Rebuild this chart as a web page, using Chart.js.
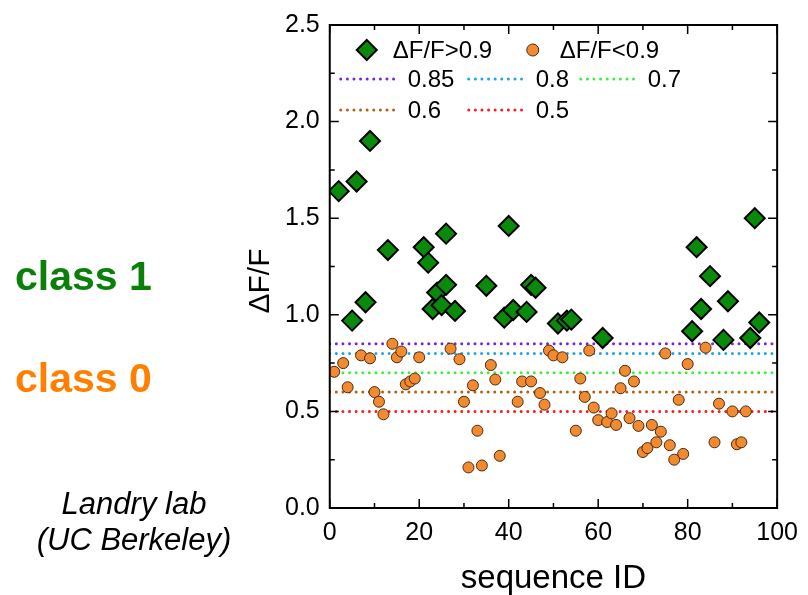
<!DOCTYPE html>
<html>
<head>
<meta charset="utf-8">
<script src="https://cdn.jsdelivr.net/npm/chart.js@4"></script>
<style>
  body { margin: 0; background: #fff; }
  #wrap { position: relative; width: 808px; height: 595px; }
  #chart { position: absolute; left: 0; top: 0; }
  .note { position: absolute; font-family: Arial, "Liberation Sans", sans-serif; white-space: nowrap; }
  .cls { font-weight: bold; font-size: 41px; left: 15px; }
  .lab { font-style: italic; font-size: 31px; left: 0; width: 268px; text-align: center; line-height: 36px; top: 486px; color: #000; }
</style>
</head>
<body>
<div id="wrap">
  <canvas id="chart" width="808" height="595"></canvas>
  <div class="note cls" style="top:253px;color:#0a800a;">class 1</div>
  <div class="note cls" style="top:355px;color:#ff8000;">class 0</div>
  <div class="note lab">Landry lab<br>(UC Berkeley)</div>
</div>
<script>
// sequences with dF/F > 0.9
const highIds = [2, 5, 6, 8, 9, 13, 21, 22, 23, 24, 25, 26, 26, 28, 35, 39, 40, 41, 44, 45, 46, 51, 53, 54, 61, 81, 82, 83, 85, 88, 89, 94, 95, 96];
const highVals = [1.64, 0.97, 1.69, 1.065, 1.90, 1.335, 1.35, 1.27, 1.03, 1.115, 1.05, 1.42, 1.155, 1.02, 1.15, 0.985, 1.46, 1.025, 1.015, 1.155, 1.14, 0.955, 0.97, 0.975, 0.88, 0.915, 1.35, 1.03, 1.20, 0.87, 1.07, 0.88, 1.50, 0.96];

// sequences with dF/F < 0.9
const lowIds = [1, 3, 4, 7, 9, 10, 11, 12, 14, 15, 16, 17, 18, 19, 20, 27, 29, 30, 31, 32, 33, 34, 36, 37, 38, 42, 43, 45, 47, 48, 49, 50, 52, 55, 56, 57, 58, 59, 60, 62, 63, 64, 65, 66, 67, 68, 69, 70, 71, 72, 73, 74, 75, 76, 77, 78, 79, 80, 84, 86, 87, 90, 91, 92, 93];
const lowVals = [0.705, 0.75, 0.625, 0.79, 0.775, 0.60, 0.55, 0.485, 0.85, 0.78, 0.81, 0.64, 0.655, 0.67, 0.78, 0.825, 0.77, 0.55, 0.21, 0.635, 0.40, 0.22, 0.74, 0.665, 0.27, 0.55, 0.655, 0.655, 0.595, 0.535, 0.815, 0.79, 0.78, 0.40, 0.67, 0.575, 0.815, 0.52, 0.455, 0.445, 0.49, 0.43, 0.62, 0.71, 0.465, 0.655, 0.425, 0.29, 0.31, 0.43, 0.34, 0.395, 0.80, 0.325, 0.25, 0.56, 0.28, 0.745, 0.83, 0.34, 0.54, 0.50, 0.33, 0.34, 0.50];

// cut-off lines
const cutoffs = [0.85, 0.8, 0.7, 0.6, 0.5];
const cutoffColors = ['#7b22d8', '#1ea4ea', '#3cf03c', '#b5600f', '#ff1a1a'];

const xTicks = [0, 20, 40, 60, 80, 100];
const yTicks = [0, 0.5, 1.0, 1.5, 2.0, 2.5];

const FONT = 'Arial, "Liberation Sans", sans-serif';
const green = '#0a8a0a';
const orange = '#f28a30';

const highPts = highIds.map((id, i) => ({ x: id, y: highVals[i] }));
const lowPts = lowIds.map((id, i) => ({ x: id, y: lowVals[i] }));

const datasets = [
    {
        label: '\u0394F/F>0.9',
        data: highPts,
        pointStyle: 'rectRot',
        pointRadius: 10,
        backgroundColor: green,
        borderColor: '#000',
        borderWidth: 2,
        showLine: false
    },
    {
        label: '\u0394F/F<0.9',
        data: lowPts,
        pointStyle: 'circle',
        pointRadius: 5.5,
        backgroundColor: orange,
        borderColor: '#4a2a10',
        borderWidth: 1,
        showLine: false
    }
];
cutoffs.forEach((c, i) => {
    datasets.push({
        label: String(c),
        data: [{ x: 0, y: c }, { x: 100, y: c }],
        showLine: true,
        borderColor: cutoffColors[i],
        borderWidth: 3,
        borderDash: [0, 6.6],
        borderCapStyle: 'round',
        pointRadius: 0,
        fill: false
    });
});

// frame, inward ticks, rotated y title and in-plot legend
const framePlugin = {
    id: 'frame',
    afterDraw(chart) {
        const ctx = chart.ctx;
        const a = chart.chartArea;
        const xs = chart.scales.x;
        const ys = chart.scales.y;
        ctx.save();
        ctx.strokeStyle = '#000';
        ctx.lineWidth = 2;
        ctx.strokeRect(a.left, a.top, a.right - a.left, a.bottom - a.top);

        ctx.lineWidth = 1.5;
        for (let v = 0; v <= 100; v += 10) {
            const px = xs.getPixelForValue(v);
            const len = v % 20 === 0 ? 9 : 5;
            ctx.beginPath();
            ctx.moveTo(px, a.bottom); ctx.lineTo(px, a.bottom - len);
            ctx.moveTo(px, a.top); ctx.lineTo(px, a.top + len);
            ctx.stroke();
        }
        for (let v = 0; v <= 2.5001; v += 0.25) {
            const py = ys.getPixelForValue(v);
            const len = Math.round(v * 4) % 2 === 0 ? 9 : 5;
            ctx.beginPath();
            ctx.moveTo(a.left, py); ctx.lineTo(a.left + len, py);
            ctx.moveTo(a.right, py); ctx.lineTo(a.right - len, py);
            ctx.stroke();
        }

        // y axis title
        ctx.fillStyle = '#000';
        ctx.font = '30px ' + FONT;
        ctx.textAlign = 'center';
        ctx.textBaseline = 'middle';
        ctx.translate(261, 281);
        ctx.rotate(-Math.PI / 2);
        ctx.fillText('\u0394F/F', 0, 0);
        ctx.setTransform(1, 0, 0, 1, 0, 0);

        // legend
        ctx.font = '24px ' + FONT;
        ctx.textAlign = 'left';
        const row1 = a.top + 25, row2 = a.top + 54, row3 = a.top + 85;
        // diamond
        ctx.beginPath();
        const dx = a.left + 37;
        ctx.moveTo(dx, row1 - 10); ctx.lineTo(dx + 10, row1);
        ctx.lineTo(dx, row1 + 10); ctx.lineTo(dx - 10, row1); ctx.closePath();
        ctx.fillStyle = green; ctx.fill();
        ctx.lineWidth = 2; ctx.strokeStyle = '#000'; ctx.stroke();
        ctx.fillStyle = '#000';
        ctx.fillText(datasets[0].label, a.left + 63, row1 + 1);
        // circle
        ctx.beginPath();
        ctx.arc(a.left + 203, row1, 6, 0, Math.PI * 2);
        ctx.fillStyle = orange; ctx.fill();
        ctx.lineWidth = 1; ctx.strokeStyle = '#4a2a10'; ctx.stroke();
        ctx.fillStyle = '#000';
        ctx.fillText(datasets[1].label, a.left + 230, row1 + 1);

        const spots = [
            [a.left + 11, row2], [a.left + 139, row2], [a.left + 251, row2],
            [a.left + 11, row3], [a.left + 139, row3]
        ];
        cutoffs.forEach((c, i) => {
            const [lx, ly] = spots[i];
            ctx.beginPath();
            ctx.setLineDash([0, 6.6]);
            ctx.lineCap = 'round';
            ctx.lineWidth = 3;
            ctx.strokeStyle = cutoffColors[i];
            ctx.moveTo(lx, ly); ctx.lineTo(lx + 57, ly);
            ctx.stroke();
            ctx.setLineDash([]);
            ctx.fillStyle = '#000';
            ctx.fillText(String(c), lx + 67, ly + 1);
        });
        ctx.restore();
    }
};

new Chart(document.getElementById('chart'), {
    type: 'scatter',
    data: { datasets: datasets },
    options: {
        responsive: false,
        devicePixelRatio: 1,
        animation: false,
        layout: { padding: { left: 275, right: 24, top: 19, bottom: 0 } },
        plugins: {
            legend: { display: false },
            tooltip: { enabled: false }
        },
        scales: {
            x: {
                type: 'linear',
                min: 0,
                max: 100,
                afterBuildTicks: (s) => { s.ticks = xTicks.map(v => ({ value: v })); },
                ticks: { color: '#000', font: { family: FONT, size: 25 }, padding: 10 },
                grid: { display: false, drawTicks: false },
                border: { display: false },
                title: {
                    display: true,
                    text: 'sequence ID',
                    color: '#000',
                    font: { family: FONT, size: 33, lineHeight: 1 },
                    padding: { top: 4, bottom: 0 }
                }
            },
            y: {
                type: 'linear',
                min: 0,
                max: 2.5,
                afterBuildTicks: (s) => { s.ticks = yTicks.map(v => ({ value: v })); },
                ticks: {
                    color: '#000',
                    font: { family: FONT, size: 25 },
                    padding: 10,
                    callback: (v) => v.toFixed(1)
                },
                grid: { display: false, drawTicks: false },
                border: { display: false }
            }
        }
    },
    plugins: [framePlugin]
});
</script>
</body>
</html>
